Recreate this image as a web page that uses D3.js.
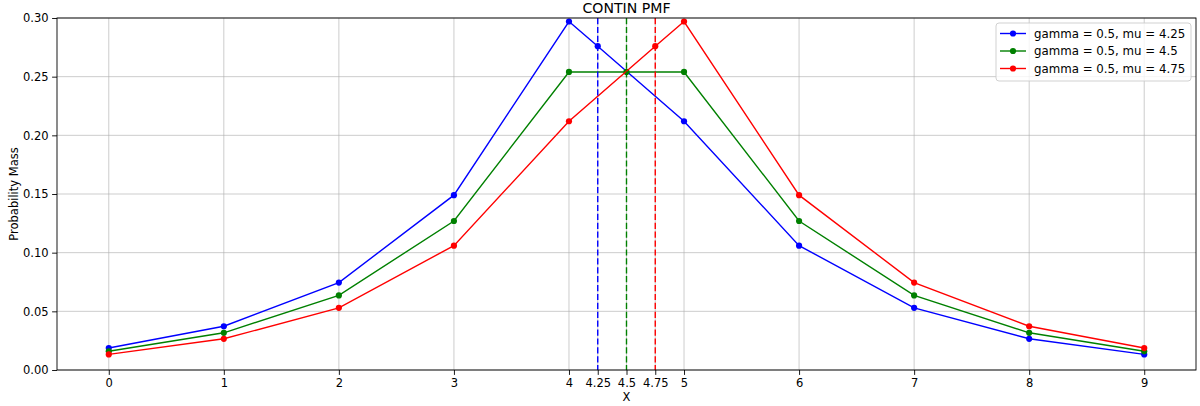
<!DOCTYPE html>
<html>
<head>
<meta charset="utf-8">
<script src="https://cdn.jsdelivr.net/npm/d3@7"></script>
<style>
  html, body { margin: 0; padding: 0; background: #fff; }
  svg { display: block; font-family: "DejaVu Sans", sans-serif; }
</style>
</head>
<body>
<svg id="chart" width="1200" height="406"></svg>
<script>
// PMF values of the CONTIN distribution for three location parameters
const xs425 = [0, 1, 2, 3, 4, 4.25, 5, 6, 7, 8, 9];
const ys425 = [0.0187, 0.0373, 0.0745, 0.149, 0.297, 0.276, 0.212, 0.106, 0.053, 0.0266, 0.0133];
const xs450 = [0, 1, 2, 3, 4, 4.5, 5, 6, 7, 8, 9];
const ys450 = [0.016, 0.0317, 0.0636, 0.127, 0.254, 0.254, 0.254, 0.127, 0.0636, 0.0317, 0.016];
const xs475 = [0, 1, 2, 3, 4, 4.75, 5, 6, 7, 8, 9];
const ys475 = [0.0133, 0.0266, 0.053, 0.106, 0.212, 0.276, 0.297, 0.149, 0.0745, 0.0373, 0.0187];

const seriesNames = ["gamma = 0.5, mu = 4.25", "gamma = 0.5, mu = 4.5", "gamma = 0.5, mu = 4.75"];
const muValues = [4.25, 4.5, 4.75];
const xTickValues = [0, 1, 2, 3, 4, 4.25, 4.5, 4.75, 5, 6, 7, 8, 9];
const xTickLabels = ["0", "1", "2", "3", "4", "4.25", "4.5", "4.75", "5", "6", "7", "8", "9"];
const yTickValues = [0, 0.05, 0.10, 0.15, 0.20, 0.25, 0.30];

const colors = ["#0000ff", "#008000", "#ff0000"];
const series = [
  { name: seriesNames[0], xs: xs425, ys: ys425, color: colors[0] },
  { name: seriesNames[1], xs: xs450, ys: ys450, color: colors[1] },
  { name: seriesNames[2], xs: xs475, ys: ys475, color: colors[2] }
];

const FS = 11.5;
const svg = d3.select("#chart");
const margin = { left: 57, right: 4, top: 18, bottom: 36 };
const W = 1200, H = 406;
const iw = W - margin.left - margin.right;
const ih = H - margin.top - margin.bottom;

const x = d3.scaleLinear().domain([-0.45, 9.45]).range([0, iw]);
const y = d3.scaleLinear().domain([0, 0.30]).range([ih, 0]);

const g = svg.append("g").attr("transform", `translate(${margin.left},${margin.top})`);

// grid
g.append("g").selectAll("line").data(xTickValues).join("line")
  .attr("x1", d => x(d)).attr("x2", d => x(d))
  .attr("y1", 0).attr("y2", ih)
  .attr("stroke", "#b0b0b0").attr("stroke-width", 0.9).attr("stroke-opacity", 0.7);
g.append("g").selectAll("line").data(yTickValues).join("line")
  .attr("x1", 0).attr("x2", iw)
  .attr("y1", d => y(d)).attr("y2", d => y(d))
  .attr("stroke", "#b0b0b0").attr("stroke-width", 0.9).attr("stroke-opacity", 0.7);

// series lines and markers
const line = d3.line().x(d => x(d[0])).y(d => y(d[1]));
series.forEach(s => {
  const pts = s.xs.map((v, i) => [v, s.ys[i]]);
  g.append("path").datum(pts)
    .attr("d", line)
    .attr("fill", "none")
    .attr("stroke", s.color)
    .attr("stroke-width", 1.4);
  g.append("g").selectAll("circle").data(pts).join("circle")
    .attr("cx", d => x(d[0])).attr("cy", d => y(d[1]))
    .attr("r", 3.1).attr("fill", s.color);
});

// dashed markers for each mu
g.append("g").selectAll("line").data(muValues).join("line")
  .attr("x1", d => x(d)).attr("x2", d => x(d))
  .attr("y1", 0).attr("y2", ih)
  .attr("stroke", (d, i) => colors[i])
  .attr("stroke-width", 1.4)
  .attr("stroke-dasharray", "6.2,2.7");

// axes
const xAxis = d3.axisBottom(x).tickValues(xTickValues)
  .tickFormat((d, i) => xTickLabels[i]).tickSize(4.9).tickPadding(3.5);
const yAxis = d3.axisLeft(y).tickValues(yTickValues)
  .tickFormat(d3.format(".2f")).tickSize(4.9).tickPadding(3.5);

const gx = g.append("g").attr("transform", `translate(0,${ih})`).call(xAxis);
const gy = g.append("g").call(yAxis);
[gx, gy].forEach(a => {
  a.select(".domain").remove();
  a.selectAll(".tick line").attr("stroke", "#000").attr("stroke-width", 0.9);
  a.selectAll(".tick text").attr("fill", "#000").attr("font-size", FS)
    .attr("font-family", "DejaVu Sans, sans-serif");
});

// frame
g.append("rect").attr("x", 0).attr("y", 0).attr("width", iw).attr("height", ih)
  .attr("fill", "none").attr("stroke", "#000").attr("stroke-width", 0.9);

// titles
svg.append("text").attr("x", margin.left + iw / 2).attr("y", 12.5)
  .attr("text-anchor", "middle").attr("font-size", 14.1).attr("fill", "#000")
  .text("CONTIN PMF");
svg.append("text").attr("x", margin.left + iw / 2).attr("y", H - 5)
  .attr("text-anchor", "middle").attr("font-size", FS).attr("fill", "#000")
  .text("X");
svg.append("text")
  .attr("transform", `translate(18,${margin.top + ih / 2}) rotate(-90)`)
  .attr("text-anchor", "middle").attr("font-size", FS).attr("fill", "#000")
  .text("Probability Mass");

// legend
const lg = svg.append("g").attr("transform", "translate(996,23)");
lg.append("rect").attr("width", 195).attr("height", 58).attr("rx", 3)
  .attr("fill", "#fff").attr("fill-opacity", 0.8)
  .attr("stroke", "#cccccc").attr("stroke-width", 0.9);
series.forEach((s, i) => {
  const cy = 10.5 + i * 17.5;
  lg.append("line").attr("x1", 4).attr("x2", 30).attr("y1", cy).attr("y2", cy)
    .attr("stroke", s.color).attr("stroke-width", 1.4);
  lg.append("circle").attr("cx", 17).attr("cy", cy).attr("r", 3.1).attr("fill", s.color);
  lg.append("text").attr("x", 38).attr("y", cy).attr("dy", "0.35em")
    .attr("font-size", 11.8).attr("fill", "#000").text(s.name);
});
</script>
</body>
</html>
